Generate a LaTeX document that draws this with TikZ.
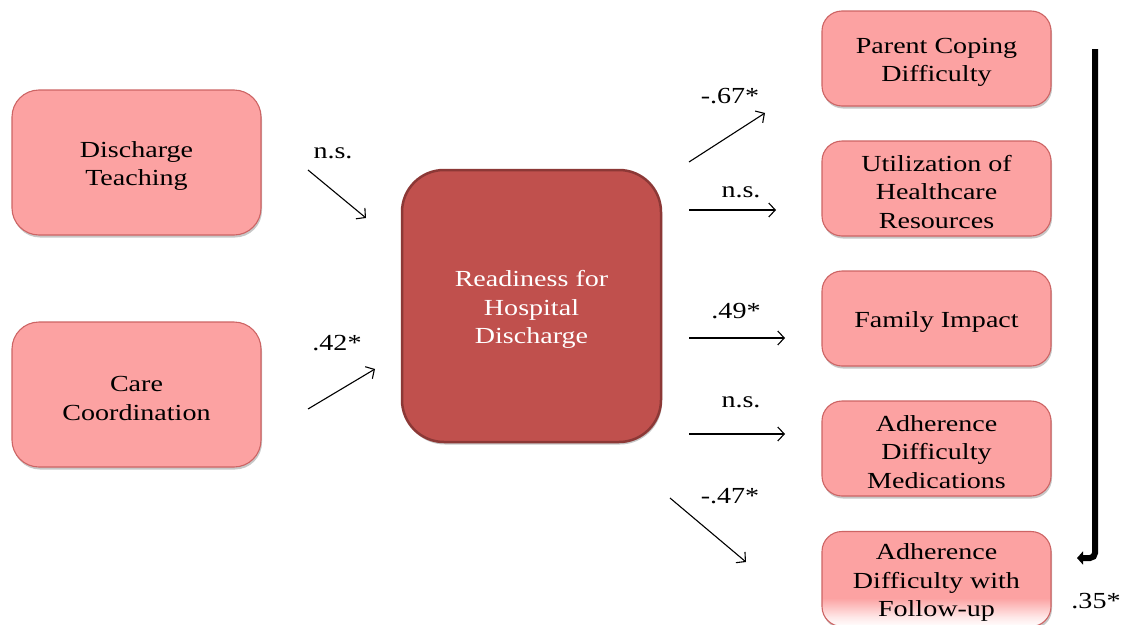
\documentclass[tikz,border=0pt]{standalone}
\usepackage{fontspec}
\setmainfont{Liberation Serif}[FakeStretch=1.22]
\usetikzlibrary{arrows.meta,shadows}
\definecolor{boxpink}{HTML}{FCA2A2}
\definecolor{boxedge}{HTML}{CD6464}
\definecolor{readyfill}{HTML}{C0504D}
\definecolor{readyedge}{HTML}{8C3836}
\pgfdeclareverticalshading{pinkfade}{100bp}{color(0bp)=(white); color(25bp)=(white); color(30bp)=(boxpink!25); color(40bp)=(boxpink); color(100bp)=(boxpink)}
\newcommand\txtdrop{\rule{0pt}{23pt}}
\begin{document}
\begin{tikzpicture}[x=1pt,y=-1pt,
  txt/.style={font=\fontsize{23}{28.5}\selectfont, align=center},
  softshadow/.style={drop shadow={shadow xshift=1pt, shadow yshift=-2.5pt, opacity=0.22, fill=black}},
  leftbox/.style={txt, draw=boxedge, line width=1.1pt, fill=boxpink, rounded corners=27pt,
    minimum width=249pt, minimum height=145pt, softshadow},
  rightbox/.style={txt, draw=boxedge, line width=1.1pt, fill=boxpink, rounded corners=20pt,
    minimum width=229pt, minimum height=95pt, softshadow},
  readybox/.style={txt, text=white, draw=readyedge, line width=2.5pt, fill=readyfill, rounded corners=42pt,
    minimum width=259pt, minimum height=272pt, softshadow},
  lbl/.style={txt, inner sep=0pt},
  path/.style={line width=1.1pt, -{Straight Barb[length=6.5pt,width=14pt]}},
  bracket/.style={line width=6pt, rounded corners=5pt, -{Triangle[length=6pt,width=13pt]}}
]
\useasboundingbox[fill=white] (0,0) rectangle (1124,624);

% left boxes
\node[leftbox] (teach) at (136.5,162.5) {\txtdrop Discharge\\Teaching};
\node[leftbox] (coord) at (136.5,394.5) {\txtdrop Care\\Coordination};

% central box
\node[readybox] (ready) at (531.5,306) {\txtdrop Readiness for\\Hospital\\Discharge};

% right boxes
\node[rightbox] (cope) at (936.5,58.5) {\txtdrop Parent Coping\\Difficulty};
\node[rightbox] (util) at (936.5,188.5) {\txtdrop Utilization of\\Healthcare\\Resources};
\node[rightbox] (fam)  at (936.5,318.5) {\txtdrop Family Impact};
\node[rightbox] (med)  at (936.5,448.5) {\txtdrop Adherence\\Difficulty\\Medications};
\node[rightbox, fill=none, shading=pinkfade] (fol) at (936.5,579) {\txtdrop Adherence\\Difficulty with\\Follow-up};

% arrow end points
\coordinate (a1s) at (308,170);  \coordinate (a1e) at (366,218);
\coordinate (a2s) at (308,409);  \coordinate (a2e) at (375,369);
\coordinate (b1s) at (689,162);  \coordinate (b1e) at (765,113);
\coordinate (b2s) at (689,210);  \coordinate (b2e) at (776,210);
\coordinate (b3s) at (689,338);  \coordinate (b3e) at (785,338);
\coordinate (b4s) at (689,434);  \coordinate (b4e) at (785,434);
\coordinate (b5s) at (670,498);  \coordinate (b5e) at (746,562);
\coordinate (ks)  at (1095,49);  \coordinate (ke)  at (1077,558);

\draw[path] (a1s) -- (a1e);
\draw[path] (a2s) -- (a2e);
\draw[path] (b1s) -- (b1e);
\draw[path] (b2s) -- (b2e);
\draw[path] (b3s) -- (b3e);
\draw[path] (b4s) -- (b4e);
\draw[path] (b5s) -- (b5e);
\draw[bracket] (ks) |- (ke);

% labels
\node[lbl] (l1) at (333,153) {n.s.};
\node[lbl] (l2) at (337,343) {.42*};
\node[lbl] (l3) at (730,96) {-.67*};
\node[lbl] (l4) at (741,192) {n.s.};
\node[lbl] (l5) at (736,311) {.49*};
\node[lbl] (l6) at (741,402) {n.s.};
\node[lbl] (l7) at (730,496) {-.47*};
\node[lbl] (l8) at (1096,601) {.35*};
\end{tikzpicture}
\end{document}
